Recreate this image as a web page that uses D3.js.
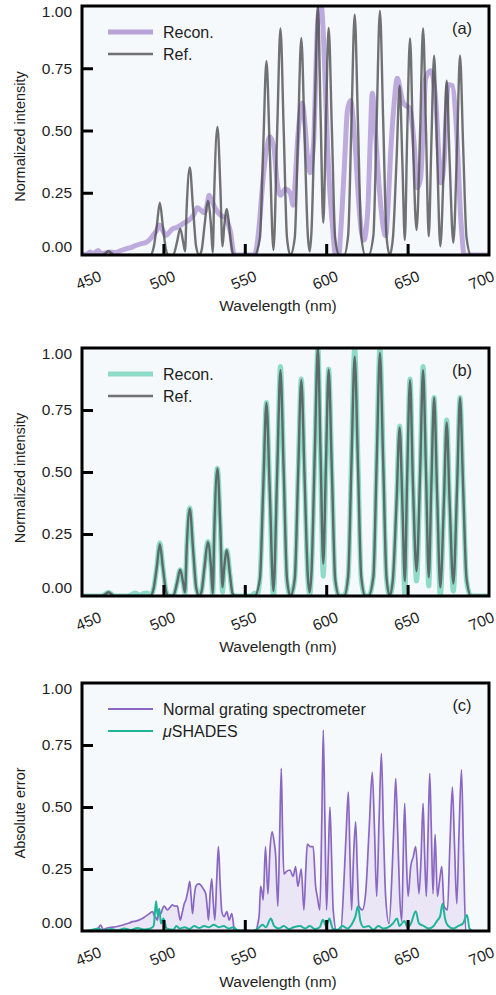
<!DOCTYPE html>
<meta charset="utf-8">
<style>
  body { margin: 0; background: #fff; }
  text { font-family: Arial, "Liberation Sans", Helvetica, sans-serif; fill: #1e1e1e; }
</style>
<svg width="496" height="995"></svg>
<script src="https://d3js.org/d3.v7.min.js"></script>
<script>

// ---- data ----
var wavelengthTicks = [450, 500, 550, 600, 650, 700];
var valueTicks = [0, 0.25, 0.5, 0.75, 1];

// reference spectrum [nm, intensity]
var refSpectrum = [[450,0],[462,0],[464.5,0.008],[466.2,0.015],[468,0.008],[470,0],
  [492,0],[494,0.03],[496,0.12],[497.8,0.21],[499.6,0.12],[501.6,0.02],[503,0],
  [506,0],[508.3,0.05],[510.3,0.106],[512.2,0.05],[513.3,0.015],[514.3,0.19],[516.2,0.352],[518.2,0.19],[520.2,0.03],[522,0],
  [523.5,0.02],[525.3,0.12],[527.3,0.217],[529.2,0.12],[530.3,0.01],[531.3,0.27],[533.2,0.514],[535,0.27],[536.3,0.035],
  [537.3,0.11],[539,0.185],[540.8,0.09],[542.5,0.01],[544,0],
  [556,0],[559.3,0.07],[561.3,0.43],[563.3,0.778],[565.3,0.43],[567.6,0.02],[569.9,0.5],[571.9,0.91],[573.9,0.5],[575.9,0.07],[578,0],
  [580.7,0.07],[582.7,0.48],[584.7,0.871],[586.7,0.48],[588.7,0.08],[589.9,0.015],[591,0.1],[593,0.58],[594.9,1.0],[596.6,0.55],[598.2,0.13],
  [599.8,0.52],[601.5,0.912],[603.5,0.5],[605.5,0.07],[608,0],
  [611,0],[613.5,0.08],[615.5,0.53],[617.5,0.965],[619.5,0.53],[621.5,0.08],[624,0],
  [626,0],[629,0.08],[631,0.54],[633,0.98],[635,0.54],[637,0.08],[639,0],
  [641,0.07],[643.2,0.38],[645.1,0.68],[646.8,0.37],[648.3,0.06],[649.7,0.47],[651.5,0.87],[653.3,0.45],[655.5,0.10],
  [657.7,0.5],[659.5,0.91],[661.3,0.5],[663,0.075],[664.6,0.45],[666.3,0.80],[668.1,0.42],[670.1,0.035],
  [672.3,0.38],[674,0.70],[675.8,0.38],[678.1,0.05],[680.4,0.44],[682.2,0.80],[684.1,0.44],[686.2,0.07],[689,0],[700,0]];

// (a) reconstruction, normal grating spectrometer
var reconGrating = [[450,0],[453,0.003],[455,0.012],[456,0.004],[458,0.01],[460,0.018],[461.5,0.006],[464,0.008],[467,0.012],
  [470.7,0.01],[474,0.018],[477,0.025],[480,0.03],[483,0.038],[486,0.045],[489.2,0.05],[492,0.065],[494.3,0.085],[496,0.1],
  [497.4,0.12],[499.5,0.1],[501.5,0.078],[503.5,0.09],[505.6,0.105],[508,0.11],[510.7,0.12],[513,0.13],[515.8,0.14],[518.5,0.16],
  [520.9,0.19],[523,0.18],[525,0.17],[526.8,0.2],[528.1,0.24],[530.6,0.205],[532.5,0.18],[534.3,0.165],[536.5,0.155],[538.4,0.15],
  [540,0.12],[541.4,0.085],[542.5,0.03],[543.5,0],[556,0],[557.5,0.04],[558.9,0.125],[560.5,0.25],[561.9,0.35],[563.5,0.43],
  [565.4,0.475],[567.9,0.43],[569.9,0.29],[572,0.24],[575,0.265],[578.1,0.245],[579.7,0.2],[581,0.3],[582.2,0.44],[583.8,0.56],
  [585.3,0.61],[587,0.52],[588.4,0.4],[590,0.33],[591.3,0.38],[592.5,0.48],[593.5,0.7],[594.5,0.9],[595.8,0.99],[597,1.0],
  [598,0.92],[599,0.76],[600,0.58],[601,0.41],[602.3,0.25],[603.7,0.13],[605.8,0],[607.8,0],[608.8,0.08],[609.9,0.2],[611.5,0.4],
  [613,0.58],[615,0.62],[616.5,0.55],[618.1,0.41],[619.5,0.26],[620.7,0.15],[623.2,0.06],[624.5,0.1],[625.7,0.2],[627,0.45],
  [628.3,0.65],[629.5,0.58],[630.4,0.48],[632,0.32],[633.5,0.2],[636.5,0.077],[638,0.2],[639.6,0.41],[641.6,0.6],[643.7,0.71],
  [645.3,0.67],[646.8,0.62],[648.8,0.6],[650.5,0.595],[651.9,0.57],[654,0.45],[656,0.27],[658,0.31],[659.5,0.5],[661.1,0.71],
  [664.2,0.74],[667.3,0.62],[669,0.42],[670.4,0.29],[672.4,0.37],[673.8,0.58],[674.9,0.685],[677.5,0.68],[679.6,0.55],[681,0.38],
  [682.2,0.2],[683.5,0.07],[684.7,0],[700,0]];

// (b) reconstruction, µSHADES
var reconShades = [[450,0],[462,0],[464.5,0.008],[466.2,0.015],[468,0.008],[470,0],[478,0],[481,0.008],[483,0.012],[485,0.004],
  [488,0.01],[490,0.012],[492,0.003],[494,0.03],[496,0.12],[497.8,0.215],[499.6,0.12],[501.6,0.02],[503,0],
  [506,0],[508.3,0.05],[510.3,0.106],[512.2,0.05],[513.3,0.01],[514.3,0.19],[516.2,0.355],[518.2,0.19],[520.2,0.03],[522,0],
  [523.5,0.02],[525.3,0.12],[527.3,0.22],[529.2,0.12],[530.3,0.005],[531.3,0.27],[533.2,0.515],[535,0.27],[536.3,0.015],
  [537.3,0.11],[539,0.185],[540.8,0.09],[542.5,0.005],[544,0],
  [554,0],[556,0.012],[557.5,0.005],[559.3,0.07],[561.3,0.43],[563.3,0.78],[565.3,0.43],[567.6,0.0],[569.9,0.5],[571.9,0.925],[573.9,0.5],[575.9,0.06],[578,0],
  [580.7,0.07],[582.7,0.48],[584.7,0.875],[586.7,0.48],[588.7,0.07],[589.9,0.005],[591,0.1],[593,0.58],[594.9,1.0],[596.6,0.53],[598.2,0.08],
  [599.8,0.5],[601.5,0.915],[603.5,0.5],[605.5,0.06],[608,0],
  [611,0],[613.5,0.08],[615.5,0.55],[617.5,1.0],[619.5,0.55],[621.5,0.07],[624,0],
  [626,0],[629,0.08],[631,0.55],[633,1.0],[635,0.55],[637,0.07],[639,0],
  [641,0.06],[643.2,0.38],[645.1,0.685],[646.8,0.36],[648.3,0.0],[649.7,0.46],[651.5,0.875],[653.3,0.45],[655.5,0.06],
  [657.7,0.5],[659.5,0.925],[661.3,0.5],[663,0.04],[664.6,0.45],[666.3,0.80],[668.1,0.4],[670.1,0.0],
  [672.3,0.38],[674,0.71],[675.8,0.38],[678.1,0.02],[680.4,0.44],[682.2,0.80],[684.1,0.44],[686.2,0.06],[689,0],[700,0]];

// (c) absolute errors
var errGrating = [[450,0],[455,0],[456.5,0.005],[458,0.002],[460,0.012],[461.5,0.024],[463,0.006],[464.6,0.01],[467,0.014],
  [470.7,0.017],[474,0.022],[476.9,0.028],[479,0.032],[481,0.038],[483,0.04],[485,0.044],[487,0.05],[489.2,0.06],[491,0.068],
  [493.3,0.078],[494.5,0.06],[495.3,0.055],[496.3,0.044],[497.2,0.08],[498.4,0.07],[499.5,0.09],[500.4,0.1],[502.5,0.085],
  [504,0.095],[505.5,0.105],[507,0.1],[508.6,0.1],[509.5,0.07],[510.3,0.044],[511.7,0.078],[512.8,0.11],[513.8,0.125],[515,0.16],
  [516.2,0.2],[517,0.14],[517.9,0.07],[518.8,0.13],[519.9,0.18],[521.5,0.19],[523,0.185],[524.5,0.17],[526,0.15],[527,0.09],
  [527.7,0.044],[528.7,0.15],[529.7,0.21],[530.6,0.12],[531.6,0.044],[532.7,0.2],[533.8,0.34],[534.8,0.2],[535.9,0.078],
  [537.3,0.058],[539,0.078],[540.4,0.044],[542,0.07],[543,0.03],[543.5,0],[556.8,0],[558,0.03],[558.9,0.07],[559.7,0.18],
  [560.5,0.16],[561.3,0.125],[562.7,0.34],[564.2,0.15],[565.5,0.33],[566.8,0.4],[568,0.36],[568.9,0.31],[570.3,0.1],[571.4,0.38],
  [572.4,0.656],[573.2,0.4],[574,0.23],[575.6,0.24],[577.7,0.246],[579.7,0.22],[581.2,0.26],[582.6,0.18],[584.7,0.25],[586.3,0.085],
  [587.5,0.25],[588.4,0.35],[590.4,0.34],[592,0.34],[593.5,0.18],[594.5,0.14],[596.1,0.085],[597.3,0.45],[598.2,0.81],[599.2,0.45],
  [600.2,0.085],[601.3,0.3],[602.3,0.5],[603.3,0.3],[604.3,0.085],[606.4,0],[608.9,0],[610.9,0.2],[612.3,0.4],[613.6,0.56],
  [614.6,0.3],[615.6,0.085],[616.8,0.3],[618.1,0.44],[619.1,0.25],[620.1,0.1],[622.2,0.085],[624.2,0.15],[626.3,0.4],[628.3,0.64],
  [629.7,0.4],[631,0.14],[632.5,0.45],[633.9,0.716],[635.2,0.4],[636.5,0.14],[638.6,0.03],[640.6,0.26],[641.7,0.45],[642.7,0.615],
  [643.9,0.4],[645.1,0.15],[646.4,0.04],[647.3,0.3],[648.2,0.515],[649.2,0.3],[650.3,0.14],[651.9,0.26],[653.5,0.3],[655,0.34],
  [657,0.15],[658.3,0.3],[659.5,0.515],[660.5,0.3],[661.5,0.14],[662.6,0.4],[663.6,0.636],[664.6,0.4],[665.6,0.15],[666.9,0.39],
  [668.3,0.14],[669.6,0.2],[671,0.26],[672.4,0.1],[674.5,0.085],[676,0.35],[677.5,0.58],[678.8,0.35],[680.2,0.11],[681.6,0.4],
  [683.1,0.65],[684.4,0.3],[685.7,0],[700,0]];

var errShades = [[450,0],[455,0.003],[460,0.01],[463,0.002],[468,0.008],[472,0.003],[476,0.01],[480,0.004],[484,0.012],[488,0.006],
  [492,0.01],[494,0.02],[495.5,0.12],[496.5,0.06],[497.5,0.09],[498.5,0.03],[500,0.05],[502,0.01],[506,0.005],[508,0.02],[510,0.01],
  [513,0.015],[516,0.008],[519,0.02],[522,0.012],[525,0.02],[528,0.015],[531,0.025],[534,0.015],[537,0.02],[540,0.01],[543,0.015],
  [546,0.002],[555,0],[558,0.01],[561,0.025],[563,0.015],[566,0.05],[568,0.02],[571,0.01],[574,0.02],[577,0.008],[580,0.015],
  [584,0.02],[587,0.01],[590,0.02],[593,0.008],[596,0.015],[598,0.045],[600,0.02],[602,0.05],[604,0.01],[607,0.005],[610,0.02],
  [613,0.01],[616,0.03],[618,0.06],[619.5,0.1],[621,0.04],[623,0.015],[626,0.02],[629,0.005],[632,0.02],[635,0.01],[638,0.015],
  [641,0.03],[643.5,0.05],[645,0.02],[648,0.04],[650,0.015],[652,0.03],[655,0.08],[657,0.03],[660,0.02],[663,0.01],[666,0.02],
  [668,0.04],[670,0.06],[671.5,0.11],[673,0.05],[675,0.02],[678,0.01],[681,0.02],[684,0.03],[686.5,0.065],[688,0.01],[690,0],[700,0]];

// ---- layout ----
var svg = d3.select("svg"),
    left = 82, right = 489;

var x = d3.scaleLinear().domain([450, 700]).range([left, right]);

// nudge for the rotated wavelength labels (the outer two sit inside the frame)
function labelShift(d) { return d == 450 ? 6 : d == 700 ? -8 : -1.5; }

function makePanel(id, top, bottom, yTitle, tag) {
  var y = d3.scaleLinear().domain([0, 1]).range([bottom, top]);
  var g = svg.append("g");

  g.append("rect")
      .attr("x", left).attr("y", top)
      .attr("width", right - left).attr("height", bottom - top)
      .attr("fill", "#f6f9fc");

  g.append("clipPath").attr("id", "clip" + id)
    .append("rect")
      .attr("x", left).attr("y", top)
      .attr("width", right - left).attr("height", bottom - top);

  var plot = g.append("g").attr("clip-path", "url(#clip" + id + ")");

  // axes: ticks point inward, labels outside
  var ya = g.append("g").attr("transform", "translate(" + left + ",0)")
      .call(d3.axisLeft(y).tickValues(valueTicks).tickFormat(d3.format(".2f"))
        .tickSizeInner(-11).tickSizeOuter(0).tickPadding(10));
  ya.select(".domain").remove();
  ya.selectAll(".tick line").attr("stroke", "#000").attr("stroke-width", 3)
      .attr("display", function(d) { return (d == 0 || d == 1) ? "none" : null; });
  ya.selectAll(".tick text").attr("font-size", 15.5).attr("fill", "#1e1e1e")
      .attr("font-family", "Arial, 'Liberation Sans', sans-serif")
      .attr("dy", function(d) { return d == 1 ? "0.7em" : d == 0 ? "-0.22em" : "0.32em"; });

  var xa = g.append("g").attr("transform", "translate(0," + bottom + ")")
      .call(d3.axisBottom(x).tickValues(wavelengthTicks).tickFormat(d3.format("d"))
        .tickSizeInner(-11).tickSizeOuter(0));
  xa.select(".domain").remove();
  xa.selectAll(".tick line").attr("stroke", "#000").attr("stroke-width", 3)
      .attr("display", function(d) { return (d == 450 || d == 700) ? "none" : null; });
  xa.selectAll(".tick text").attr("font-size", 15.5).attr("fill", "#1e1e1e")
      .attr("font-family", "Arial, 'Liberation Sans', sans-serif")
      .attr("y", 0).attr("dy", "0.35em")
      .attr("transform", function(d) { return "translate(" + labelShift(d) + ",25) rotate(-22)"; });

  g.append("text")
      .attr("transform", "translate(20," + ((top + bottom) / 2 + 6) + ") rotate(-90)")
      .attr("text-anchor", "middle").attr("dy", "0.35em")
      .attr("font-size", 14.5)
      .text(yTitle);

  g.append("text")
      .attr("x", 278).attr("y", bottom + 56)
      .attr("text-anchor", "middle")
      .attr("font-size", 15.5)
      .text("Wavelength (nm)");

  g.append("text")
      .attr("x", 462).attr("y", top + 28)
      .attr("text-anchor", "middle")
      .attr("font-size", 16.5)
      .text(tag);

  return { g: g, plot: plot, y: y, top: top, bottom: bottom };
}

function frame(p) {
  p.g.append("rect")
      .attr("x", left).attr("y", p.top)
      .attr("width", right - left).attr("height", p.bottom - p.top)
      .attr("fill", "none").attr("stroke", "#000").attr("stroke-width", 3);
}

function legend(p, items) {
  items.forEach(function(it, i) {
    var ly = p.top + 26 + i * 22;
    p.g.append("line")
        .attr("x1", 108).attr("x2", 153).attr("y1", ly).attr("y2", ly)
        .attr("stroke", it.color).attr("stroke-width", it.width)
        .attr("stroke-opacity", it.opacity || 1);
    var t = p.g.append("text").attr("x", 163).attr("y", ly).attr("dy", "0.35em")
        .attr("font-size", 16);
    if (it.mu) {
      t.append("tspan").attr("font-style", "italic").text("\u03bc");
      t.append("tspan").text(it.label);
    } else {
      t.text(it.label);
    }
  });
}

function smoothLine(y) {
  return d3.line().x(function(d) { return x(d[0]); }).y(function(d) { return y(d[1]); })
      .curve(d3.curveMonotoneX);
}

var refColor = "#4f4f4f";

// ---- (a) ----
var pa = makePanel("a", 6, 255, "Normalized intensity", "(a)");
pa.plot.append("path").datum(reconGrating)
    .attr("fill", "none").attr("stroke", "#b7a2da").attr("stroke-width", 5)
    .attr("stroke-linejoin", "round").attr("stroke-opacity", 0.9)
    .attr("d", smoothLine(pa.y));
pa.plot.append("path").datum(refSpectrum)
    .attr("fill", "none").attr("stroke", refColor).attr("stroke-width", 2.4)
    .attr("stroke-opacity", 0.8)
    .attr("d", smoothLine(pa.y));
frame(pa);
legend(pa, [
  { label: "Recon.", color: "#b7a2da", width: 5 },
  { label: "Ref.", color: refColor, width: 2.4, opacity: 0.8 }
]);

// ---- (b) ----
var pb = makePanel("b", 348, 596, "Normalized intensity", "(b)");
pb.plot.append("path").datum(reconShades)
    .attr("fill", "none").attr("stroke", "#8edbc9").attr("stroke-width", 5)
    .attr("stroke-linejoin", "round")
    .attr("d", smoothLine(pb.y));
pb.plot.append("path").datum(refSpectrum)
    .attr("fill", "none").attr("stroke", refColor).attr("stroke-width", 2.4)
    .attr("stroke-opacity", 0.8)
    .attr("d", smoothLine(pb.y));
frame(pb);
legend(pb, [
  { label: "Recon.", color: "#8edbc9", width: 5 },
  { label: "Ref.", color: refColor, width: 2.4, opacity: 0.8 }
]);

// ---- (c) ----
var pc = makePanel("c", 683, 931, "Absolute error", "(c)");
pc.plot.append("path").datum(errGrating)
    .attr("fill", "#e9e1f4").attr("fill-opacity", 0.8)
    .attr("d", d3.area().x(function(d) { return x(d[0]); })
      .y0(pc.y(0)).y1(function(d) { return pc.y(d[1]); })
      .curve(d3.curveMonotoneX));
pc.plot.append("path").datum(errGrating)
    .attr("fill", "none").attr("stroke", "#8a68c2").attr("stroke-width", 1.7)
    .attr("stroke-linejoin", "round")
    .attr("d", smoothLine(pc.y));
pc.plot.append("path").datum(errShades)
    .attr("fill", "none").attr("stroke", "#1fb59a").attr("stroke-width", 2)
    .attr("stroke-linejoin", "round")
    .attr("d", smoothLine(pc.y));
frame(pc);
legend(pc, [
  { label: "Normal grating spectrometer", color: "#8a68c2", width: 2 },
  { label: "SHADES", color: "#1fb59a", width: 2, mu: true }
]);

</script>
